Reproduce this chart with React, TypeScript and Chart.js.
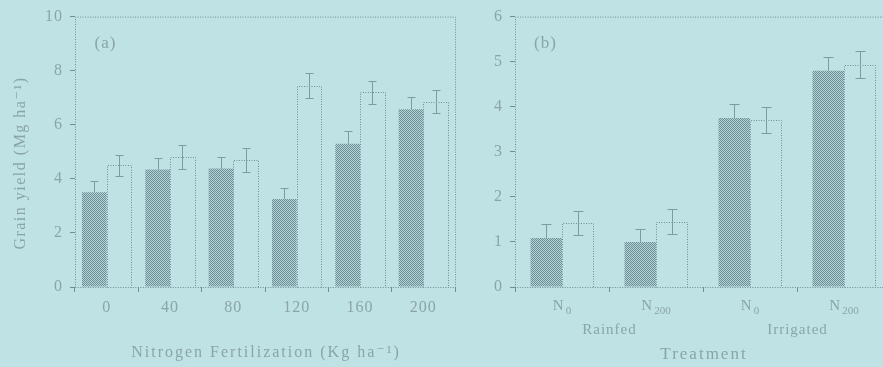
import React, { useEffect, useRef } from 'react';
import { Chart, registerables } from 'chart.js';

Chart.register(...registerables);

// ---------- data ----------
const nitrogenRates = ['0', '40', '80', '120', '160', '200'];
const aHatched = [3.5, 4.35, 4.38, 3.25, 5.3, 6.57];
const aHatchedErr = [0.42, 0.43, 0.42, 0.42, 0.47, 0.44];
const aOpen = [4.5, 4.8, 4.7, 7.45, 7.2, 6.86];
const aOpenErr = [0.4, 0.44, 0.45, 0.45, 0.42, 0.42];
const aYTicksMax = 10;
const aYStep = 2;

const treatmentBase = ['N', 'N', 'N', 'N'];
const treatmentSub = ['0', '200', '0', '200'];
const bHatched = [1.09, 1.0, 3.75, 4.8];
const bHatchedErr = [0.3, 0.29, 0.3, 0.3];
const bOpen = [1.42, 1.45, 3.71, 4.93];
const bOpenErr = [0.27, 0.28, 0.29, 0.3];
const bYTicksMax = 6;
const bYStep = 1;
const waterRegimes = ['Rainfed', 'Irrigated'];

// ---------- style ----------
const BG = '#bfe2e5';
const LINE = '#6f8f94';
const TEXT = '#8aa5a9';
const FONT = "'Liberation Serif', 'DejaVu Serif', serif";

function makePattern(): CanvasPattern | string {
  const c = document.createElement('canvas');
  c.width = 2;
  c.height = 2;
  const g = c.getContext('2d');
  if (!g) return '#8eaeb2';
  g.fillStyle = '#b4d3d6';
  g.fillRect(0, 0, 2, 2);
  g.fillStyle = '#6d9096';
  g.fillRect(0, 0, 1, 1);
  g.fillRect(1, 1, 1, 1);
  const p = g.createPattern(c, 'repeat');
  return p || '#8eaeb2';
}

function dotted(ctx: CanvasRenderingContext2D) {
  ctx.strokeStyle = LINE;
  ctx.lineWidth = 1;
  ctx.setLineDash([1, 1.5]);
}

function text(ctx: CanvasRenderingContext2D, s: string, x: number, y: number, size: number, spacing: number) {
  ctx.save();
  ctx.font = `${size}px ${FONT}`;
  (ctx as any).letterSpacing = `${spacing}px`;
  ctx.fillStyle = TEXT;
  ctx.textAlign = 'center';
  ctx.textBaseline = 'middle';
  ctx.fillText(s, x + spacing / 2, y);
  ctx.restore();
}

interface PanelOpts {
  labels: string[];
  hatched: number[];
  hatchedErr: number[];
  open: number[];
  openErr: number[];
  yMax: number;
  yStep: number;
  catPct: number;
  capW: number;
  rightPad: number;
  showXLabels: boolean;
  extra: (chart: any) => void;
}

function buildConfig(o: PanelOpts): any {
  const decor = {
    id: 'decor',
    beforeDraw(chart: any) {
      (chart.ctx as any).letterSpacing = '1px';
    },
    afterDatasetsDraw(chart: any) {
      const ctx: CanvasRenderingContext2D = chart.ctx;
      const { left, right, top, bottom } = chart.chartArea;
      const y = chart.scales.y;
      ctx.save();
      (ctx as any).letterSpacing = '0px';
      dotted(ctx);
      // frame
      ctx.beginPath();
      ctx.moveTo(left + 0.5, bottom + 0.5);
      ctx.lineTo(left + 0.5, top + 0.5);
      ctx.lineTo(right + 0.5, top + 0.5);
      ctx.lineTo(right + 0.5, bottom + 0.5);
      ctx.lineTo(left + 0.5, bottom + 0.5);
      ctx.stroke();

      // open bar outlines
      const openMeta = chart.getDatasetMeta(1);
      openMeta.data.forEach((el: any) => {
        const l = Math.round(el.x - el.width / 2) + 0.5;
        const r = Math.round(el.x + el.width / 2) + 0.5;
        const t = Math.round(el.y) + 0.5;
        const b = Math.round(el.base) + 0.5;
        ctx.beginPath();
        ctx.moveTo(l, b);
        ctx.lineTo(l, t);
        ctx.lineTo(r, t);
        ctx.lineTo(r, b);
        ctx.stroke();
      });

      // error bars
      ctx.setLineDash([]);
      ctx.strokeStyle = '#7d9ca1';
      const hw = o.capW / 2;
      const hMeta = chart.getDatasetMeta(0);
      hMeta.data.forEach((el: any, i: number) => {
        const x = Math.round(el.x) + 0.5;
        const y0 = y.getPixelForValue(o.hatched[i]);
        const y1 = Math.round(y.getPixelForValue(o.hatched[i] + o.hatchedErr[i])) + 0.5;
        ctx.beginPath();
        ctx.moveTo(x, y0);
        ctx.lineTo(x, y1);
        ctx.moveTo(x - hw, y1);
        ctx.lineTo(x + hw, y1);
        ctx.stroke();
      });
      openMeta.data.forEach((el: any, i: number) => {
        const x = Math.round(el.x) + 0.5;
        const y0 = Math.round(y.getPixelForValue(o.open[i] - o.openErr[i])) + 0.5;
        const y1 = Math.round(y.getPixelForValue(o.open[i] + o.openErr[i])) + 0.5;
        ctx.beginPath();
        ctx.moveTo(x, y0);
        ctx.lineTo(x, y1);
        ctx.moveTo(x - hw, y1);
        ctx.lineTo(x + hw, y1);
        ctx.moveTo(x - hw, y0);
        ctx.lineTo(x + hw, y0);
        ctx.stroke();
      });
      ctx.restore();
      o.extra(chart);
    },
    afterDraw(chart: any) {
      (chart.ctx as any).letterSpacing = '0px';
    },
  };

  return {
    type: 'bar',
    data: {
      labels: o.labels,
      datasets: [
        {
          data: o.hatched,
          backgroundColor: makePattern(),
          borderWidth: 0,
          categoryPercentage: o.catPct,
          barPercentage: 1,
        },
        {
          data: o.open,
          backgroundColor: 'rgba(0,0,0,0)',
          borderWidth: 0,
          categoryPercentage: o.catPct,
          barPercentage: 1,
        },
      ],
    },
    options: {
      animation: false,
      responsive: false,
      devicePixelRatio: 1,
      layout: { padding: { top: 13, right: o.rightPad, left: 0, bottom: 0 } },
      plugins: { legend: { display: false }, tooltip: { enabled: false } },
      scales: {
        x: {
          offset: true,
          grid: { offset: true, drawOnChartArea: false, drawTicks: true, tickLength: 5, color: LINE },
          border: { display: false },
          ticks: {
            autoSkip: false,
            maxRotation: 0,
            padding: 6,
            color: o.showXLabels ? TEXT : 'rgba(0,0,0,0)',
            font: { family: FONT, size: 16 },
          },
          afterFit: (s: any) => {
            s.height = 80;
          },
        },
        y: {
          min: 0,
          max: o.yMax,
          grid: { drawOnChartArea: false, drawTicks: true, tickLength: 5, color: LINE },
          border: { display: false },
          ticks: {
            stepSize: o.yStep,
            padding: 7,
            color: TEXT,
            font: { family: FONT, size: 16 },
          },
          afterFit: (s: any) => {
            s.width = 75;
          },
        },
      },
    },
    plugins: [decor],
  };
}

export default function App() {
  const refA = useRef<HTMLCanvasElement>(null);
  const refB = useRef<HTMLCanvasElement>(null);

  useEffect(() => {
    const a = new Chart(
      refA.current as HTMLCanvasElement,
      buildConfig({
        labels: nitrogenRates,
        hatched: aHatched,
        hatchedErr: aHatchedErr,
        open: aOpen,
        openErr: aOpenErr,
        yMax: aYTicksMax,
        yStep: aYStep,
        catPct: 0.78,
        capW: 8,
        rightPad: 15,
        showXLabels: true,
        extra: (chart: any) => {
          const ctx: CanvasRenderingContext2D = chart.ctx;
          const { left, right, top, bottom } = chart.chartArea;
          text(ctx, '(a)', left + 30, top + 27, 17, 1);
          text(ctx, 'Nitrogen Fertilization (Kg ha\u207B\u00B9)', (left + right) / 2, bottom + 66, 16, 2);
          ctx.save();
          ctx.translate(21, (top + bottom) / 2 + 12);
          ctx.rotate(-Math.PI / 2);
          text(ctx, 'Grain yield (Mg ha\u207B\u00B9)', 0, 0, 16, 1.5);
          ctx.restore();
        },
      })
    );
    const b = new Chart(
      refB.current as HTMLCanvasElement,
      buildConfig({
        labels: treatmentBase.map((n, i) => n + treatmentSub[i]),
        hatched: bHatched,
        hatchedErr: bHatchedErr,
        open: bOpen,
        openErr: bOpenErr,
        yMax: bYTicksMax,
        yStep: bYStep,
        catPct: 0.67,
        capW: 10,
        rightPad: 9,
        showXLabels: false,
        extra: (chart: any) => {
          const ctx: CanvasRenderingContext2D = chart.ctx;
          const { left, top, bottom } = chart.chartArea;
          const x = chart.scales.x;
          text(ctx, '(b)', left + 30, top + 27, 17, 1);
          ctx.save();
          (ctx as any).letterSpacing = '0px';
          ctx.fillStyle = TEXT;
          ctx.textBaseline = 'middle';
          ctx.textAlign = 'left';
          treatmentBase.forEach((n, i) => {
            const cx = x.getPixelForValue(i);
            ctx.font = `15px ${FONT}`;
            const wN = ctx.measureText(n).width;
            ctx.font = `11px ${FONT}`;
            const wS = ctx.measureText(treatmentSub[i]).width;
            const start = cx - (wN + 2 + wS) / 2;
            ctx.font = `15px ${FONT}`;
            ctx.fillText(n, start, bottom + 19);
            ctx.font = `11px ${FONT}`;
            ctx.fillText(treatmentSub[i], start + wN + 2, bottom + 24);
          });
          ctx.restore();
          const between = (i: number) => (x.getPixelForValue(i) + x.getPixelForValue(i + 1)) / 2;
          text(ctx, waterRegimes[0], between(0), bottom + 43, 15, 1);
          text(ctx, waterRegimes[1], between(2), bottom + 43, 15, 1);
          text(ctx, 'Treatment', between(1), bottom + 68, 17, 2);
        },
      })
    );
    return () => {
      a.destroy();
      b.destroy();
    };
  }, []);

  return (
    <div
      style={{
        position: 'fixed',
        left: 0,
        top: 0,
        width: 883,
        height: 367,
        overflow: 'hidden',
        background: BG,
      }}
    >
      <canvas
        ref={refA}
        width={470}
        height={367}
        style={{ position: 'absolute', left: 0, top: 0, width: 470, height: 367 }}
      />
      <canvas
        ref={refB}
        width={460}
        height={367}
        style={{ position: 'absolute', left: 440, top: 0, width: 460, height: 367 }}
      />
    </div>
  );
}
